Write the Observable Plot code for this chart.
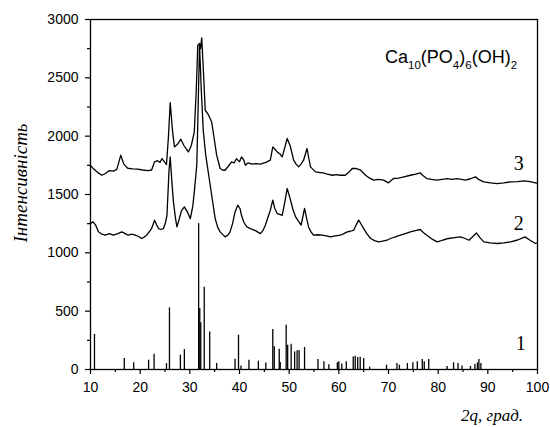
<!DOCTYPE html>
<html><head><meta charset="utf-8">
<script src="https://cdn.jsdelivr.net/npm/d3@7"></script>
<script src="https://cdn.jsdelivr.net/npm/@observablehq/plot@0.6"></script>
<style>body{margin:0;background:#fff} #chart svg{display:block}</style>
</head><body><div id="chart"></div>
<script>
// Curve 3
const x3 = [10.0,10.6,11.4,12.3,13.0,13.8,14.6,15.3,16.1,16.7,17.5,18.5,19.5,20.5,21.6,22.3,22.9,23.5,24.0,24.4,24.9,25.3,25.7,26.05,26.5,26.9,27.5,28.2,28.8,29.7,30.3,30.9,31.3,31.6,31.95,32.15,32.4,32.8,33.1,33.6,34.0,34.4,34.9,35.4,36.1,36.6,37.1,37.7,38.4,38.9,39.4,40.0,40.4,40.8,41.2,41.7,42.5,43.3,44.2,45.3,46.2,46.7,47.1,47.6,48.1,48.6,49.1,49.6,50.2,50.9,51.4,51.9,52.4,52.9,53.6,54.0,54.3,55.3,56.0,56.8,57.7,58.7,59.5,60.3,61.3,62.0,62.7,63.4,64.4,65.4,66.2,67.0,68.0,69.0,70.0,71.0,72.0,73.1,74.4,75.5,76.4,77.0,77.7,78.7,79.7,80.8,81.8,82.8,83.8,84.7,85.5,86.5,87.5,88.3,89.2,90.5,91.9,93.2,94.6,96.0,97.3,98.5,99.6,100];
const y3 = [1750,1720,1690,1665,1680,1705,1700,1715,1837,1760,1725,1720,1718,1710,1705,1710,1780,1790,1775,1808,1780,1757,2000,2288,2050,1908,1930,1974,1920,1865,1920,2037,2400,2780,2794,2750,2842,2500,2222,2194,2160,2122,1980,1837,1723,1710,1708,1740,1780,1770,1808,1780,1822,1800,1751,1771,1760,1765,1760,1775,1794,1908,1890,1865,1850,1822,1900,1980,1918,1794,1760,1737,1760,1794,1894,1800,1737,1694,1690,1685,1675,1665,1670,1665,1665,1690,1723,1723,1708,1665,1640,1623,1630,1623,1600,1637,1640,1651,1665,1675,1685,1660,1637,1630,1623,1630,1637,1630,1637,1630,1623,1635,1651,1625,1608,1600,1594,1600,1608,1610,1617,1610,1600,1595];
// Curve 2
const x2 = [10.0,10.5,11.0,11.6,12.3,13.0,13.8,14.6,15.5,16.3,17.0,17.6,18.3,19.0,19.7,20.3,20.8,21.3,22.3,22.9,23.3,23.7,24.2,24.7,25.1,25.4,25.8,26.05,26.4,26.7,27.1,27.4,27.8,28.3,28.9,29.5,30.1,30.6,30.9,31.4,31.7,31.95,32.3,32.7,33.2,33.9,34.6,35.1,35.6,36.1,37.1,37.6,38.1,38.6,39.1,39.65,40.1,40.4,40.9,41.5,42.2,43.2,44.2,44.7,45.2,45.7,46.2,46.7,47.1,47.6,48.1,48.6,49.1,49.6,50.2,50.7,51.3,51.9,52.4,52.8,53.1,53.5,53.9,54.4,54.9,55.8,56.6,57.5,58.3,59.3,60.3,61.0,61.7,62.3,63.0,63.5,64.0,64.5,65.0,65.7,66.4,67.2,68.0,68.8,69.7,70.5,71.4,72.4,73.4,74.4,75.4,76.4,77.0,77.7,78.7,79.8,81.0,82.1,83.3,84.5,85.3,86.2,87.0,87.7,88.4,89.2,90.5,91.9,93.2,94.6,96.0,97.5,98.5,99.6,100];
const y2 = [1251,1265,1240,1180,1160,1151,1165,1151,1165,1180,1165,1151,1160,1151,1140,1123,1135,1151,1208,1280,1240,1208,1200,1208,1260,1322,1700,1822,1600,1437,1300,1222,1280,1360,1394,1351,1294,1400,1523,1751,2300,2785,2400,2050,1837,1637,1437,1294,1220,1180,1137,1150,1180,1250,1351,1408,1380,1322,1260,1222,1208,1190,1165,1190,1237,1300,1365,1451,1380,1337,1330,1322,1430,1551,1465,1380,1308,1270,1237,1320,1380,1300,1222,1180,1151,1155,1151,1145,1137,1145,1151,1165,1180,1185,1194,1240,1280,1245,1208,1160,1123,1105,1094,1100,1108,1125,1137,1151,1165,1180,1190,1200,1175,1151,1120,1094,1110,1123,1130,1137,1125,1108,1140,1171,1130,1094,1085,1080,1085,1094,1110,1137,1108,1080,1085];
// Curve 1: reference stick pattern
const x1 = [10.8,16.8,18.7,21.7,22.8,25.3,25.9,28.1,28.9,31.77,32.0,32.2,32.9,34.0,35.4,39.1,39.8,40.3,41.9,43.8,45.3,46.7,47.0,48.0,48.2,49.4,49.7,50.4,51.1,51.6,52.0,53.1,55.8,57.0,58.0,59.7,60.0,60.6,61.5,62.9,63.3,63.8,64.3,65.0,66.2,69.6,71.7,72.2,73.8,74.9,75.8,76.8,77.2,78.1,81.8,83.1,84.0,84.8,86.5,87.4,87.9,88.2,88.6];
const y1 = [300,94,57,80,131,50,528,123,171,1250,523,400,705,322,51,88,294,30,80,71,55,343,194,174,60,380,208,217,151,160,163,189,86,66,40,57,66,47,66,108,114,103,106,94,20,37,51,37,51,57,66,86,66,86,26,57,51,31,26,43,57,86,51];
// Labels
const curveNames = ["3","2","1"];
const curveLabelX = [95.2,95.2,95.6];
const curveLabelY = [1714,1200,165];
const xTicks = [10,20,30,40,50,60,70,80,90,100];
const xMinor = [15,25,35,45,55,65,75,85,95];
const yTicks = [0,500,1000,1500,2000,2500,3000];
const yMinor = [250,750,1250,1750,2250,2750];
const yTitle = "Інтенсивність";
const xTitle = "2q, град.";
const formula = [["Ca",0],["10",1],["(PO",0],["4",1],[")",0],["6",1],["(OH)",0],["2",1]];
const formulaX = 69.4, formulaY = 2625;

const c3 = x3.map((x,i)=>({x, y:y3[i]}));
const c2 = x2.map((x,i)=>({x, y:y2[i]}));
const c1 = x1.map((x,i)=>({x, y:y1[i]}));
const labels = curveNames.map((t,i)=>({t, x:curveLabelX[i], y:curveLabelY[i]}));

const plot = Plot.plot({
  width:550, height:427, marginLeft:90, marginRight:13, marginTop:19, marginBottom:58,
  x:{domain:[10,100]}, y:{domain:[0,3000]},
  style:{fontFamily:"'Liberation Sans', Arial, sans-serif", fontSize:"14px", color:"#000", background:"#fff"},
  marks:[
    Plot.axisY({ticks:yTicks, tickSize:5, tickPadding:7, label:null, fontSize:14, tickFormat:d=>String(d), strokeWidth:1.2}),
    Plot.axisY({ticks:yMinor, tickSize:3, text:null, label:null, strokeWidth:1.2}),
    Plot.axisX({ticks:xTicks, tickSize:5, tickPadding:8, label:null, fontSize:14, tickFormat:d=>String(d), strokeWidth:1.2}),
    Plot.axisX({ticks:xMinor, tickSize:3, text:null, label:null, strokeWidth:1.2}),
    Plot.ruleX(c1, {x:"x", y1:0, y2:"y", stroke:"#000", strokeWidth:1.3}),
    Plot.line(c2, {x:"x", y:"y", stroke:"#000", strokeWidth:1.3}),
    Plot.line(c3, {x:"x", y:"y", stroke:"#000", strokeWidth:1.3}),
    Plot.text(labels, {x:"x", y:"y", text:"t", textAnchor:"start", lineAnchor:"bottom", fontFamily:"'Liberation Serif', 'Times New Roman', serif", fontSize:20, fill:"#000"}),
    Plot.frame({stroke:"#000", strokeWidth:1.3})
  ]
});
document.getElementById("chart").appendChild(plot);

const svg = d3.select(plot);
const sx = plot.scale("x"), sy = plot.scale("y");
// formula
const ft = svg.append("text")
  .attr("x", sx.apply(formulaX)).attr("y", sy.apply(formulaY))
  .attr("text-anchor","start")
  .attr("font-family","'Liberation Sans', Arial, sans-serif").attr("font-size",18).attr("fill","#000");
let prev = 0;
formula.forEach(([s,sub])=>{
  const shift = sub ? 6 : 0;
  ft.append("tspan").attr("dy", shift - prev).attr("font-size", sub ? 11.5 : 18).text(s);
  prev = shift;
});
// axis titles
svg.append("text").attr("transform","translate(27,183) rotate(-90)")
  .attr("text-anchor","middle").attr("font-family","'Liberation Serif', 'Times New Roman', serif")
  .attr("font-style","italic").attr("font-size",19).attr("fill","#000").text(yTitle);
svg.append("text").attr("x",523).attr("y",421)
  .attr("text-anchor","end").attr("font-family","'Liberation Serif', 'Times New Roman', serif")
  .attr("font-style","italic").attr("font-size",17).attr("fill","#000").text(xTitle);
</script></body></html>
